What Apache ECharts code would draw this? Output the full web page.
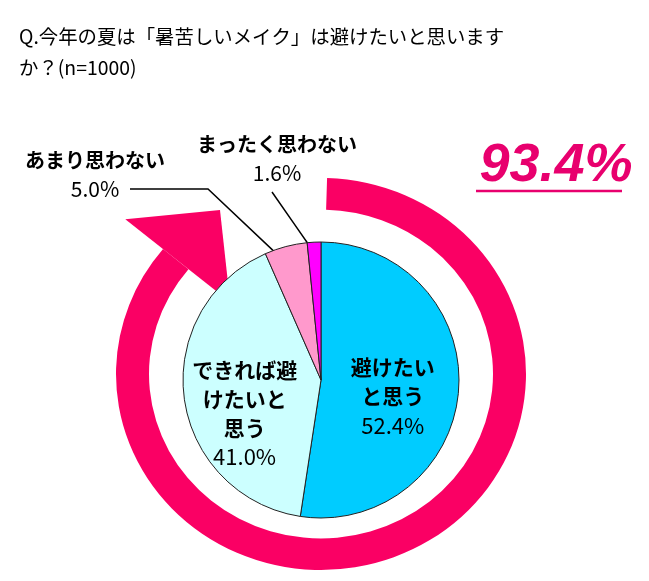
<!DOCTYPE html>
<html>
<head>
<meta charset="utf-8">
<script src="https://cdn.jsdelivr.net/npm/echarts@6/dist/echarts.min.js"></script>
<style>
  html, body { margin: 0; background: #fff; }
  #main { width: 649px; height: 581px; }
</style>
</head>
<body>
<div id="main"></div>
<script>
// data
const categories = ['避けたいと思う', 'できれば避けたいと思う', 'あまり思わない', 'まったく思わない'];
const values = [52.4, 41.0, 5.0, 1.6];
const labelNames = [['避けたい', 'と思う'], ['できれば避', 'けたいと', '思う'], ['あまり思わない'], ['まったく思わない']];
const sliceColors = ['#00ccff', '#ccffff', '#ff99cc', '#ff00ff'];
const titleText = 'Q.今年の夏は「暑苦しいメイク」は避けたいと思います\nか？(n=1000)';

const FONT = '"Noto Sans CJK JP", "Noto Sans", sans-serif';
const PINK = '#fa0064';
const pieCenter = [321, 380];
const pieRadius = 138;

// avoid total (52.4 + 41.0)
const avoidTotal = values[0] + values[1];

const total = values.reduce((a, b) => a + b, 0);
// mid angle of a slice, radians clockwise from 12 o'clock
function sliceMid(i) {
  let before = 0;
  for (let k = 0; k < i; k++) before += values[k];
  return (before + values[i] / 2) / total * Math.PI * 2;
}
function pointInSlice(i, frac) {
  const a = sliceMid(i);
  return [pieCenter[0] + Math.sin(a) * pieRadius * frac,
          pieCenter[1] - Math.cos(a) * pieRadius * frac];
}

// ring arrow around the pie (decoration)
const ringC = [321, 374];
const ringScaleY = 0.956;
function polar(r, deg) {
  const a = deg * Math.PI / 180;
  return [Math.cos(a) * r, Math.sin(a) * r];
}
const arrowHead = [polar(254, -140.4), polar(118, -140.4), polar(199, -120.5)];

const chart = echarts.init(document.getElementById('main'), null, { renderer: 'canvas' });

chart.setOption({
  animation: false,
  backgroundColor: '#fff',
  title: {
    text: titleText,
    left: 14,
    top: 16,
    textStyle: { fontFamily: FONT, fontSize: 19.4, fontWeight: 'normal', lineHeight: 31, color: '#000' }
  },
  graphic: [
    {
      type: 'group',
      x: ringC[0],
      y: ringC[1],
      scaleY: ringScaleY,
      z: 0,
      children: [
        {
          type: 'sector',
          shape: { cx: 0, cy: 0, r: 205, r0: 172, startAngle: -88.3 * Math.PI / 180, endAngle: 219.6 * Math.PI / 180, clockwise: true },
          style: { fill: PINK }
        },
        {
          type: 'polygon',
          shape: { points: arrowHead },
          style: { fill: PINK }
        }
      ]
    },
    {
      type: 'text',
      x: 556,
      y: 166,
      style: {
        text: avoidTotal.toFixed(1) + '%',
        fontFamily: '"Liberation Sans", Arial, sans-serif',
        fontSize: 54,
        fontStyle: 'italic',
        fontWeight: 'bold',
        fill: '#e8006e',
        align: 'center',
        verticalAlign: 'middle'
      }
    },
    {
      type: 'line',
      shape: { x1: 476, y1: 191, x2: 622, y2: 191 },
      style: { stroke: '#e8006e', lineWidth: 2.5 }
    }
  ],
  series: [
    {
      type: 'pie',
      center: pieCenter,
      radius: pieRadius,
      startAngle: 90,
      clockwise: true,
      avoidLabelOverlap: false,
      z: 2,
      itemStyle: { borderColor: '#222', borderWidth: 1 },
      label: {
        show: true,
        position: 'inside',
        color: '#000',
        fontFamily: FONT,
        formatter: p => labelNames[p.dataIndex].map(s => '{b|' + s + '}').join('\n') +
          '\n{p|' + p.value.toFixed(1) + '%}',
        rich: {
          b: { fontFamily: FONT, fontSize: 21, fontWeight: 'bold', lineHeight: 29, color: '#000' },
          p: { fontFamily: FONT, fontSize: 22, fontWeight: 'normal', lineHeight: 29, color: '#000' }
        }
      },
      labelLine: { show: false, lineStyle: { color: '#000', width: 1.5 } },
      labelLayout: function (p) {
        const i = p.dataIndex;
        if (i === 0) return { dy: 11 };
        if (i === 1) return { dx: -5, dy: 24 };
        if (i === 2) {
          return {
            x: 95, y: 175, align: 'center', verticalAlign: 'middle',
            labelLinePoints: [pointInSlice(2, 0.84), [208, 189], [130, 189]]
          };
        }
        const s = pointInSlice(3, 0.92);
        return {
          x: 277, y: 159, align: 'center', verticalAlign: 'middle',
          labelLinePoints: [s, [(s[0] + 272) / 2, (s[1] + 192) / 2], [272, 192]]
        };
      },
      data: categories.map((name, i) => ({
        name: name,
        value: values[i],
        itemStyle: { color: sliceColors[i] },
        label: i >= 2 ? { position: 'outside', rich: { b: { fontSize: 20 }, p: { fontSize: 21 } } } : undefined,
        labelLine: i >= 2 ? { show: true } : undefined
      }))
    }
  ]
});
</script>
</body>
</html>
